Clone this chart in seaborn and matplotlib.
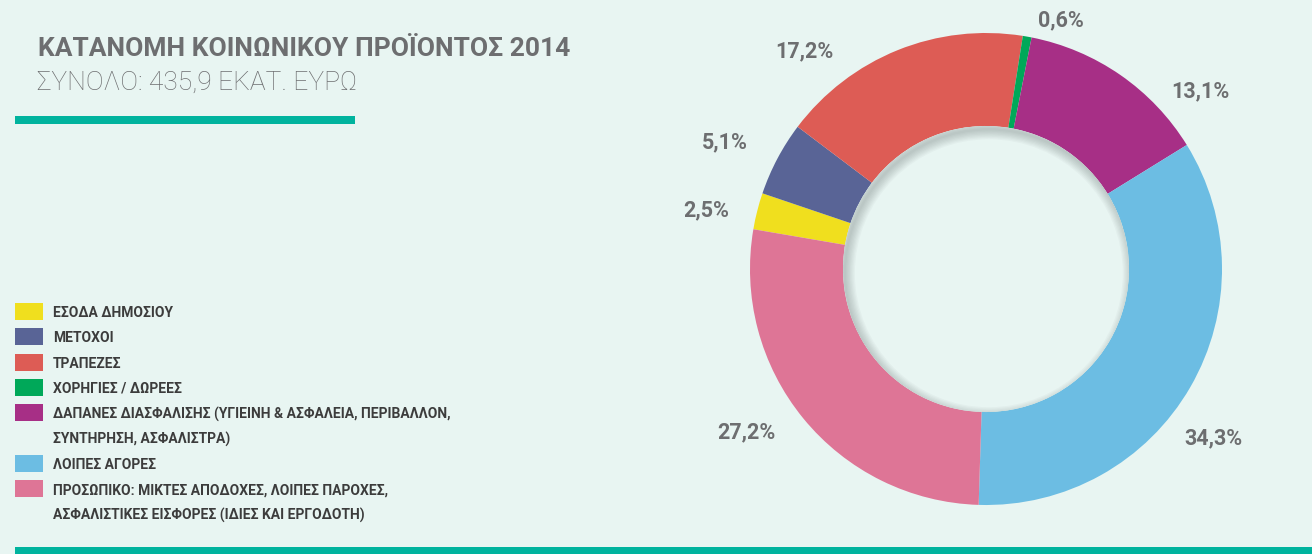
import numpy as np
import matplotlib
matplotlib.use("Agg")
import matplotlib.pyplot as plt
from matplotlib.patches import Circle, Rectangle
import seaborn as sns

# ---------------- data ----------------
categories = [
    "ΕΣΟΔΑ ΔΗΜΟΣΙΟΥ",
    "ΜΕΤΟΧΟΙ",
    "ΤΡΑΠΕΖΕΣ",
    "ΧΟΡΗΓΙΕΣ / ΔΩΡΕΕΣ",
    "ΔΑΠΑΝΕΣ ΔΙΑΣΦΑΛΙΣΗΣ (ΥΓΙΕΙΝΗ & ΑΣΦΑΛΕΙΑ, ΠΕΡΙΒΑΛΛΟΝ,\nΣΥΝΤΗΡΗΣΗ, ΑΣΦΑΛΙΣΤΡΑ)",
    "ΛΟΙΠΕΣ ΑΓΟΡΕΣ",
    "ΠΡΟΣΩΠΙΚΟ: ΜΙΚΤΕΣ ΑΠΟΔΟΧΕΣ, ΛΟΙΠΕΣ ΠΑΡΟΧΕΣ,\nΑΣΦΑΛΙΣΤΙΚΕΣ ΕΙΣΦΟΡΕΣ (ΙΔΙΕΣ ΚΑΙ ΕΡΓΟΔΟΤΗ)",
]
shares = [2.5, 5.1, 17.2, 0.6, 13.1, 34.3, 27.2]
title = "ΚΑΤΑΝΟΜΗ ΚΟΙΝΩΝΙΚΟΥ ΠΡΟΪΟΝΤΟΣ 2014"
subtitle = "ΣΥΝΟΛΟ: 435,9 ΕΚΑΤ. ΕΥΡΩ"

# ---------------- style ----------------
colors = ["#f0df1e", "#596496", "#dd5c55", "#00a859", "#a72f86", "#6cbde3", "#de7596"]
BG = "#e8f5f2"
TEAL = "#00b39e"
GRAY = "#6d6e70"
DARK = "#3c3c3c"

sns.set_theme(style="white", rc={"figure.facecolor": BG, "axes.facecolor": BG})
plt.rcParams["font.family"] = ["Roboto", "DejaVu Sans"]
palette = sns.color_palette(colors)

W, H = 1312, 554
fig = plt.figure(figsize=(W / 100, H / 100), dpi=100)
fig.patch.set_facecolor(BG)

# donut axes: center (986, 269) px from top, outer radius 236 px
cx, cy, R = 986, 269, 236
ax = fig.add_axes([(cx - R) / W, (H - cy - R) / H, 2 * R / W, 2 * R / H])
ax.set_facecolor("none")

inner = 0.606
labels_txt = [f"{v:.1f}".replace(".", ",") + "%" for v in shares]
wedges, texts = ax.pie(
    shares, colors=palette, startangle=170.3, counterclock=False,
    labels=labels_txt, labeldistance=1.2,
    wedgeprops=dict(width=1 - inner, edgecolor="none", linewidth=0),
    textprops=dict(color=GRAY, fontsize=15.5, fontweight="bold"),
    radius=1.0,
)
# label placement (clockwise angle from top, radius in units of R)
label_polar = [(281.9, 1.21), (295.9, 1.23), (320.2, 1.20), (16.8, 1.10),
               (50.4, 1.18), (126.7, 1.20), (235.8, 1.23)]
for t, (a, r) in zip(texts, label_polar):
    th = np.deg2rad(a)
    t.set_position((r * np.sin(th), r * np.cos(th)))
    t.set_ha("center")
    t.set_va("center")

# inner hole with soft inset shadow (stronger at top-left)
hole = Circle((0, 0), inner, facecolor=BG, edgecolor="none", zorder=3)
ax.add_patch(hole)
for k in range(1, 9):
    c = Circle((0.012, -0.018), inner + 0.004, facecolor="none",
               edgecolor="#4f5a59", linewidth=k * 1.8, alpha=0.04, zorder=4)
    ax.add_patch(c)
    c.set_clip_path(hole)

ax.set_xlim(-1, 1)
ax.set_ylim(-1, 1)
ax.set_aspect("equal")
ax.axis("off")

# titles
fig.text(38 / W, 1 - 56 / H, title, color=GRAY, fontsize=19, fontweight="bold",
         ha="left", va="baseline")
fig.text(37 / W, 1 - 90 / H, subtitle, color=GRAY, fontsize=19, fontweight="light",
         ha="left", va="baseline")

# teal decoration lines
fig.add_artist(Rectangle((15 / W, 1 - 124 / H), 340 / W, 8 / H, transform=fig.transFigure,
                         facecolor=TEAL, edgecolor="none"))
fig.add_artist(Rectangle((15 / W, 0), 1 - 15 / W, 7.5 / H, transform=fig.transFigure,
                         facecolor=TEAL, edgecolor="none"))

# legend drawn row by row: swatch on the first line of each entry only
row_top, row_pitch = 311.5, 25.3
row = 0
for w, lab in zip(wedges, categories):
    lines = lab.split("\n")
    yc = row_top + row * row_pitch
    fig.add_artist(Rectangle((15 / W, 1 - (yc + 8.5) / H), 28 / W, 17 / H,
                             transform=fig.transFigure, facecolor=w.get_facecolor(),
                             edgecolor="none"))
    for j, line in enumerate(lines):
        fig.text(53 / W, 1 - (row_top + (row + j) * row_pitch) / H, line, color=DARK,
                 fontsize=10, fontweight="semibold", ha="left", va="center_baseline")
    row += len(lines)

fig.savefig("out.png", dpi=100, facecolor=BG)
